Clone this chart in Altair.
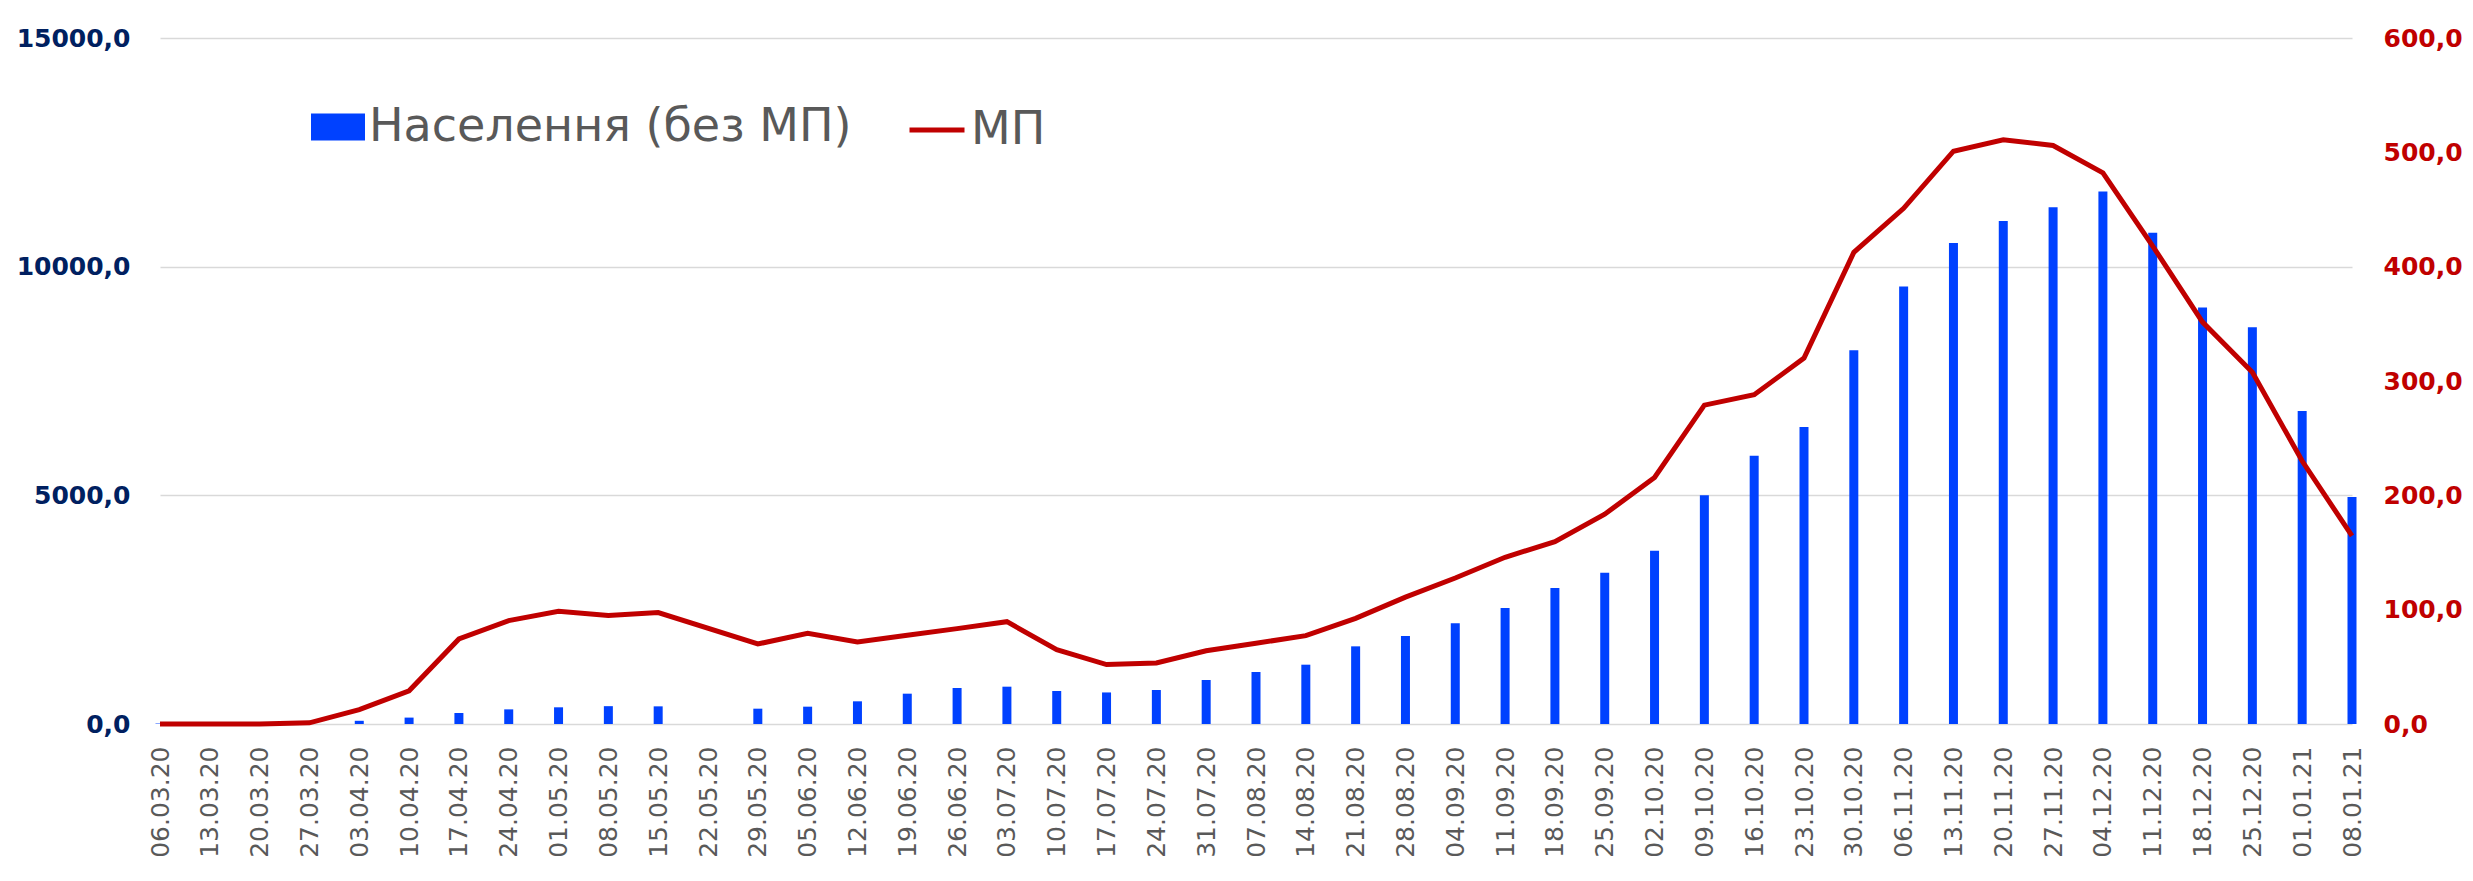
import altair as alt
import pandas as pd

dates = ["06.03.20", "13.03.20", "20.03.20", "27.03.20", "03.04.20", "10.04.20", "17.04.20",
         "24.04.20", "01.05.20", "08.05.20", "15.05.20", "22.05.20", "29.05.20", "05.06.20",
         "12.06.20", "19.06.20", "26.06.20", "03.07.20", "10.07.20", "17.07.20", "24.07.20",
         "31.07.20", "07.08.20", "14.08.20", "21.08.20", "28.08.20", "04.09.20", "11.09.20",
         "18.09.20", "25.09.20", "02.10.20", "09.10.20", "16.10.20", "23.10.20", "30.10.20",
         "06.11.20", "13.11.20", "20.11.20", "27.11.20", "04.12.20", "11.12.20", "18.12.20",
         "25.12.20", "01.01.21", "08.01.21"]

population = [10, 0, 0, 0, 70, 140, 240, 320, 365, 390, 386, None, 335, 379, 496, 663, 787, 816,
              722, 690, 743, 962, 1137, 1297, 1698, 1924, 2201, 2537, 2974, 3305, 3789, 5000,
              5865, 6496, 8174, 9567, 10518, 11000, 11298, 11646, 10743, 9106, 8677, 6843, 4964]

mp = [0, 0, 0, 1, 12.5, 29, 74.4, 90.4, 98.5, 95, 97.5, None, 70, 79.3, 71.7, 77.6, 83.4, 89.5,
      65, 52, 53.4, 64.1, 70.6, 77.3, 92.4, 111, 127.7, 145.8, 159.5, 183.5, 215.6, 278.9,
      288, 320, 412.5, 451, 501, 511, 506, 482, 418, 351.5, 307.7, 230, 164.5]

left_ticks = [0, 5000, 10000, 15000]
right_ticks = [0, 100, 200, 300, 400, 500, 600]

series_bar = "Населення (без МП)"
series_line = "МП"

df = pd.DataFrame({"date": dates, "pop": population, "mp": mp})

x_enc = alt.X("date:N", sort=dates, title=None,
              scale=alt.Scale(type="point", padding=0, domain=dates),
              axis=alt.Axis(labelAngle=270, labelFont="DejaVu Sans", labelFontSize=25,
                            labelColor="#595959", labelPadding=22, ticks=False,
                            domain=False, grid=False, labelOverlap=False))

bars = alt.Chart(df).transform_filter("isValid(datum.pop)").transform_calculate(
    s1="'" + series_bar + "'"
).mark_bar(width=9).encode(
    x=x_enc,
    y=alt.Y("pop:Q", title=None, scale=alt.Scale(domain=[0, 15000], nice=False),
            axis=alt.Axis(values=left_ticks, orient="left",
                          labelExpr="replace(format(datum.value, '.1f'), '.', ',')",
                          labelFont="DejaVu Sans", labelFontWeight="bold", labelFontSize=25,
                          labelColor="#002060", labelPadding=30, ticks=False, domain=False,
                          grid=True, gridColor="#D9D9D9", gridWidth=1.5)),
    color=alt.Color("s1:N", scale=alt.Scale(domain=[series_bar], range=["#0041FF"]),
                    legend=alt.Legend(orient="none", legendX=151, legendY=62, title=None,
                                      labelFont="DejaVu Sans", labelFontSize=46,
                                      labelColor="#595959", labelOffset=4, labelLimit=0,
                                      symbolType="M-1,-0.5H1V0.5H-1Z", symbolSize=2916,
                                      symbolStrokeWidth=0, symbolOpacity=1)),
)

line = alt.Chart(df).transform_filter("isValid(datum.mp)").transform_calculate(
    s2="'" + series_line + "'"
).mark_line(strokeWidth=5, strokeJoin="miter").encode(
    x=x_enc,
    y=alt.Y("mp:Q", title=None, scale=alt.Scale(domain=[0, 600], nice=False),
            axis=alt.Axis(values=right_ticks, orient="right",
                          labelExpr="replace(format(datum.value, '.1f'), '.', ',')",
                          labelFont="DejaVu Sans", labelFontWeight="bold", labelFontSize=25,
                          labelColor="#C00000", labelPadding=31, ticks=False, domain=False,
                          grid=False)),
    stroke=alt.Stroke("s2:N", scale=alt.Scale(domain=[series_line], range=["#C00000"]),
                      legend=alt.Legend(orient="none", legendX=747, legendY=62, title=None,
                                        labelFont="DejaVu Sans", labelFontSize=46,
                                        labelColor="#595959", labelOffset=4, labelLimit=0,
                                        symbolType="stroke", symbolSize=3025,
                                        symbolStrokeWidth=5)),
)

chart = alt.layer(bars, line).resolve_scale(y="independent").properties(
    width=2192,
    height=686,
    padding={"left": 152, "top": 30, "right": 110, "bottom": 150},
    autosize=alt.AutoSizeParams(type="none"),
    background="white",
).configure_view(stroke=None)

chart.save("out.html", embed_options={"renderer": "svg", "actions": False})
